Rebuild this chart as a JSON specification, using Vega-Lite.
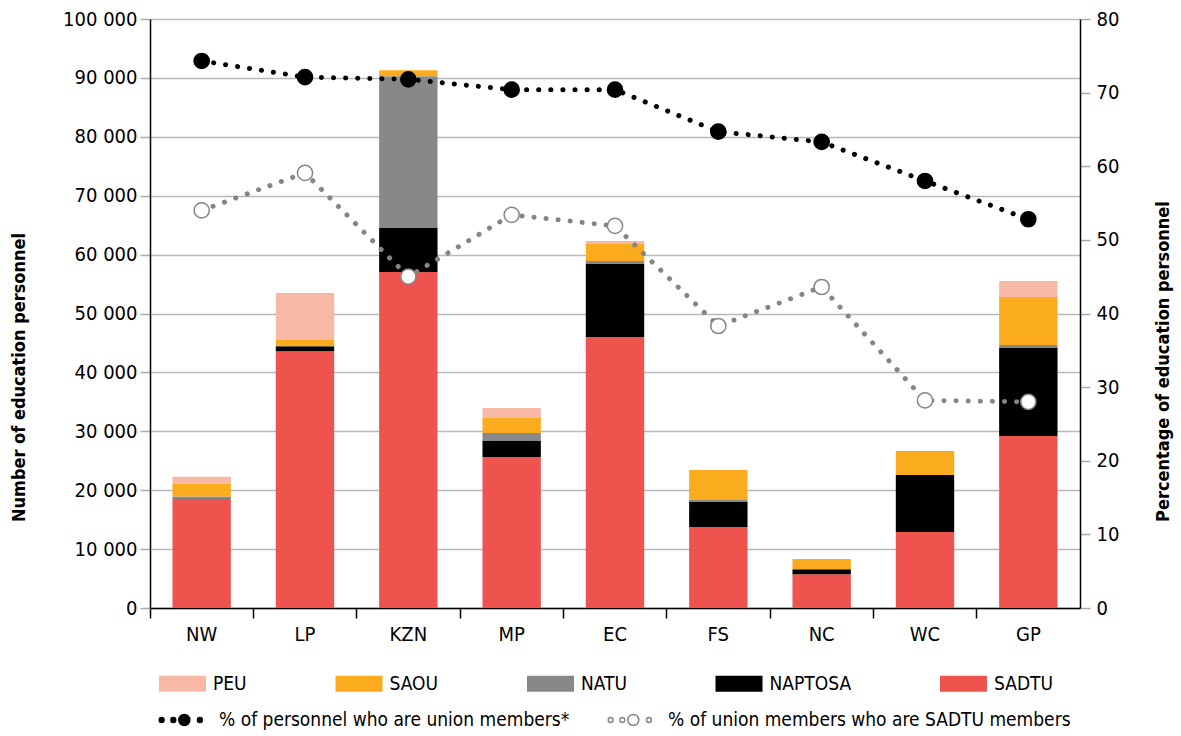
{
  "$schema": "https://vega.github.io/schema/vega-lite/v6.json",
  "autosize": {"type": "none"},
  "width": 930,
  "height": 589,
  "padding": {"left": 150, "top": 19, "right": 101, "bottom": 128},
  "background": "white",
  "config": {
    "font": "Liberation Sans Narrow, DejaVu Sans Condensed, Roboto Condensed, Roboto, sans-serif",
    "view": {"stroke": null},
    "axis": {"labelFont": "Liberation Sans Narrow, DejaVu Sans Condensed, Roboto Condensed, Roboto, sans-serif", "titleFont": "Liberation Sans Narrow, DejaVu Sans Condensed, Roboto Condensed, Roboto, sans-serif", "labelColor": "#000", "titleColor": "#000"},
    "legend": {"labelFont": "Liberation Sans Narrow, DejaVu Sans Condensed, Roboto Condensed, Roboto, sans-serif", "labelFontSize": 19, "labelColor": "#000", "padding": 0, "labelLimit": 600}
  },
  "datasets": {
    "unions": [
      {"region": "NW", "union": "SADTU", "rank": 1, "members": 18500},
      {"region": "NW", "union": "NAPTOSA", "rank": 2, "members": 100},
      {"region": "NW", "union": "NATU", "rank": 3, "members": 350},
      {"region": "NW", "union": "SAOU", "rank": 4, "members": 2150},
      {"region": "NW", "union": "PEU", "rank": 5, "members": 1200},
      {"region": "LP", "union": "SADTU", "rank": 1, "members": 43600},
      {"region": "LP", "union": "NAPTOSA", "rank": 2, "members": 850},
      {"region": "LP", "union": "NATU", "rank": 3, "members": 0},
      {"region": "LP", "union": "SAOU", "rank": 4, "members": 1050},
      {"region": "LP", "union": "PEU", "rank": 5, "members": 8000},
      {"region": "KZN", "union": "SADTU", "rank": 1, "members": 57050},
      {"region": "KZN", "union": "NAPTOSA", "rank": 2, "members": 7450},
      {"region": "KZN", "union": "NATU", "rank": 3, "members": 25800},
      {"region": "KZN", "union": "SAOU", "rank": 4, "members": 1000},
      {"region": "KZN", "union": "PEU", "rank": 5, "members": 0},
      {"region": "MP", "union": "SADTU", "rank": 1, "members": 25650},
      {"region": "MP", "union": "NAPTOSA", "rank": 2, "members": 2700},
      {"region": "MP", "union": "NATU", "rank": 3, "members": 1350},
      {"region": "MP", "union": "SAOU", "rank": 4, "members": 2550},
      {"region": "MP", "union": "PEU", "rank": 5, "members": 1700},
      {"region": "EC", "union": "SADTU", "rank": 1, "members": 46000},
      {"region": "EC", "union": "NAPTOSA", "rank": 2, "members": 12400},
      {"region": "EC", "union": "NATU", "rank": 3, "members": 500},
      {"region": "EC", "union": "SAOU", "rank": 4, "members": 2900},
      {"region": "EC", "union": "PEU", "rank": 5, "members": 500},
      {"region": "FS", "union": "SADTU", "rank": 1, "members": 13750},
      {"region": "FS", "union": "NAPTOSA", "rank": 2, "members": 4250},
      {"region": "FS", "union": "NATU", "rank": 3, "members": 350},
      {"region": "FS", "union": "SAOU", "rank": 4, "members": 5100},
      {"region": "FS", "union": "PEU", "rank": 5, "members": 0},
      {"region": "NC", "union": "SADTU", "rank": 1, "members": 5750},
      {"region": "NC", "union": "NAPTOSA", "rank": 2, "members": 850},
      {"region": "NC", "union": "NATU", "rank": 3, "members": 0},
      {"region": "NC", "union": "SAOU", "rank": 4, "members": 1700},
      {"region": "NC", "union": "PEU", "rank": 5, "members": 0},
      {"region": "WC", "union": "SADTU", "rank": 1, "members": 12900},
      {"region": "WC", "union": "NAPTOSA", "rank": 2, "members": 9700},
      {"region": "WC", "union": "NATU", "rank": 3, "members": 0},
      {"region": "WC", "union": "SAOU", "rank": 4, "members": 4050},
      {"region": "WC", "union": "PEU", "rank": 5, "members": 0},
      {"region": "GP", "union": "SADTU", "rank": 1, "members": 29200},
      {"region": "GP", "union": "NAPTOSA", "rank": 2, "members": 14950},
      {"region": "GP", "union": "NATU", "rank": 3, "members": 500},
      {"region": "GP", "union": "SAOU", "rank": 4, "members": 8150},
      {"region": "GP", "union": "PEU", "rank": 5, "members": 2700}
    ],
    "pct": [
      {"region": "NW", "series": "% of  personnel who are union members*", "pct": 74.3},
      {"region": "LP", "series": "% of  personnel who are union members*", "pct": 72.1},
      {"region": "KZN", "series": "% of  personnel who are union members*", "pct": 71.8},
      {"region": "MP", "series": "% of  personnel who are union members*", "pct": 70.4},
      {"region": "EC", "series": "% of  personnel who are union members*", "pct": 70.4},
      {"region": "FS", "series": "% of  personnel who are union members*", "pct": 64.7},
      {"region": "NC", "series": "% of  personnel who are union members*", "pct": 63.3},
      {"region": "WC", "series": "% of  personnel who are union members*", "pct": 58.0},
      {"region": "GP", "series": "% of  personnel who are union members*", "pct": 52.8},
      {"region": "NW", "series": "% of union members who are SADTU members", "pct": 54.0},
      {"region": "LP", "series": "% of union members who are SADTU members", "pct": 59.1},
      {"region": "KZN", "series": "% of union members who are SADTU members", "pct": 45.0},
      {"region": "MP", "series": "% of union members who are SADTU members", "pct": 53.4},
      {"region": "EC", "series": "% of union members who are SADTU members", "pct": 51.9},
      {"region": "FS", "series": "% of union members who are SADTU members", "pct": 38.3},
      {"region": "NC", "series": "% of union members who are SADTU members", "pct": 43.6},
      {"region": "WC", "series": "% of union members who are SADTU members", "pct": 28.2},
      {"region": "GP", "series": "% of union members who are SADTU members", "pct": 28.0}
    ]
  },
  "layer": [
    {
      "data": {"name": "unions"},
      "mark": {"type": "bar", "width": {"band": 0.565}},
      "encoding": {
        "x": {
          "field": "region", "type": "nominal",
          "sort": ["NW", "LP", "KZN", "MP", "EC", "FS", "NC", "WC", "GP"],
          "scale": {"paddingInner": 0, "paddingOuter": 0},
          "axis": {"title": null, "labelAngle": 0, "labelFontSize": 20, "labelPadding": 6, "domainColor": "#000", "domainWidth": 1.5, "tickColor": "#000", "tickWidth": 1.5, "tickSize": 10, "bandPosition": 0}
        },
        "y": {
          "field": "members", "type": "quantitative", "stack": "zero",
          "scale": {"domain": [0, 100000], "nice": false},
          "axis": {
            "title": "Number of education personnel", "titleFontSize": 18, "titleFontWeight": "bold",
            "titleAngle": 270, "titleX": -131, "titleY": 358, "titleAlign": "center", "titleBaseline": "middle",
            "values": [0, 10000, 20000, 30000, 40000, 50000, 60000, 70000, 80000, 90000, 100000],
            "labelExpr": "replace(format(datum.value, ','), ',', ' ')",
            "labelFontSize": 20, "labelPadding": 3,
            "domainColor": "#000", "domainWidth": 1.5,
            "tickColor": "#aaaaaa", "tickWidth": 1.5, "tickSize": 10,
            "grid": true, "gridColor": "#b8b8b8", "gridWidth": 1.5
          }
        },
        "color": {
          "field": "union", "type": "nominal",
          "scale": {"domain": ["PEU", "SAOU", "NATU", "NAPTOSA", "SADTU"], "range": ["#f8b8a6", "#fbab1e", "#86888a", "#000000", "#ef534e"]},
          "legend": {
            "title": null, "orient": "none", "legendX": 9, "legendY": 641, "direction": "horizontal", "columns": 5,
            "columnPadding": 88.5, "symbolType": "M-1,-0.34H1V0.34H-1Z", "symbolSize": 2209, "symbolStrokeWidth": 0,
            "labelOffset": 7, "labelFontSize": 19
          }
        },
        "order": {"field": "rank", "type": "quantitative", "sort": "ascending"}
      }
    },
    {
      "data": {"name": "pct"},
      "encoding": {
        "x": {"field": "region", "type": "nominal", "sort": ["NW", "LP", "KZN", "MP", "EC", "FS", "NC", "WC", "GP"]},
        "y": {
          "field": "pct", "type": "quantitative",
          "scale": {"domain": [0, 80], "nice": false},
          "axis": {
            "orient": "right", "title": "Percentage of education personnel", "titleFontSize": 18, "titleFontWeight": "bold",
            "titleAngle": 270, "titleX": 83, "titleY": 342, "titleAlign": "center", "titleBaseline": "middle",
            "values": [0, 10, 20, 30, 40, 50, 60, 70, 80],
            "labelFontSize": 20, "labelPadding": 6,
            "domainColor": "#000", "domainWidth": 1.5,
            "tickColor": "#aaaaaa", "tickWidth": 1.5, "tickSize": 10, "grid": false
          }
        }
      },
      "layer": [
        {
          "mark": {"type": "line", "strokeDash": [0.1, 12], "strokeCap": "round", "strokeWidth": 5},
          "encoding": {
            "stroke": {
              "field": "series", "type": "nominal",
              "scale": {"domain": ["% of  personnel who are union members*", "% of union members who are SADTU members"], "range": ["#000000", "#858585"]},
              "legend": {
                "title": null, "orient": "none", "legendX": 8, "legendY": 678, "direction": "horizontal", "columns": 2,
                "columnPadding": 30,
                "symbolType": "M-0.99,0a0.11,0.11 0 1,0 0.22,0a0.11,0.11 0 1,0 -0.22,0M-0.46,0a0.11,0.11 0 1,0 0.22,0a0.11,0.11 0 1,0 -0.22,0M-0.1,0a0.25,0.25 0 1,0 0.5,0a0.25,0.25 0 1,0 -0.5,0M0.75,0a0.11,0.11 0 1,0 0.22,0a0.11,0.11 0 1,0 -0.22,0",
                "symbolSize": 1936, "symbolStrokeWidth": 1.5, "labelOffset": 15, "labelFontSize": 19
              }
            }
          }
        },
        {
          "mark": {"type": "point", "filled": false, "shape": "circle", "size": 230, "strokeWidth": 1.5, "opacity": 1},
          "encoding": {
            "stroke": {
              "field": "series", "type": "nominal",
              "scale": {"domain": ["% of  personnel who are union members*", "% of union members who are SADTU members"], "range": ["#000000", "#858585"]},
              "legend": {
                "title": null, "orient": "none", "legendX": 8, "legendY": 678, "direction": "horizontal", "columns": 2,
                "columnPadding": 30,
                "symbolType": "M-0.99,0a0.11,0.11 0 1,0 0.22,0a0.11,0.11 0 1,0 -0.22,0M-0.46,0a0.11,0.11 0 1,0 0.22,0a0.11,0.11 0 1,0 -0.22,0M-0.1,0a0.25,0.25 0 1,0 0.5,0a0.25,0.25 0 1,0 -0.5,0M0.75,0a0.11,0.11 0 1,0 0.22,0a0.11,0.11 0 1,0 -0.22,0",
                "symbolSize": 1936, "symbolStrokeWidth": 1.5, "labelOffset": 15, "labelFontSize": 19
              }
            },
            "fill": {
              "field": "series", "type": "nominal",
              "scale": {"domain": ["% of  personnel who are union members*", "% of union members who are SADTU members"], "range": ["#000000", "#ffffff"]},
              "legend": {
                "title": null, "orient": "none", "legendX": 8, "legendY": 678, "direction": "horizontal", "columns": 2,
                "columnPadding": 30,
                "symbolType": "M-0.99,0a0.11,0.11 0 1,0 0.22,0a0.11,0.11 0 1,0 -0.22,0M-0.46,0a0.11,0.11 0 1,0 0.22,0a0.11,0.11 0 1,0 -0.22,0M-0.1,0a0.25,0.25 0 1,0 0.5,0a0.25,0.25 0 1,0 -0.5,0M0.75,0a0.11,0.11 0 1,0 0.22,0a0.11,0.11 0 1,0 -0.22,0",
                "symbolSize": 1936, "symbolStrokeWidth": 1.5, "labelOffset": 15, "labelFontSize": 19
              }
            }
          }
        }
      ]
    }
  ],
  "resolve": {"scale": {"y": "independent"}}
}
